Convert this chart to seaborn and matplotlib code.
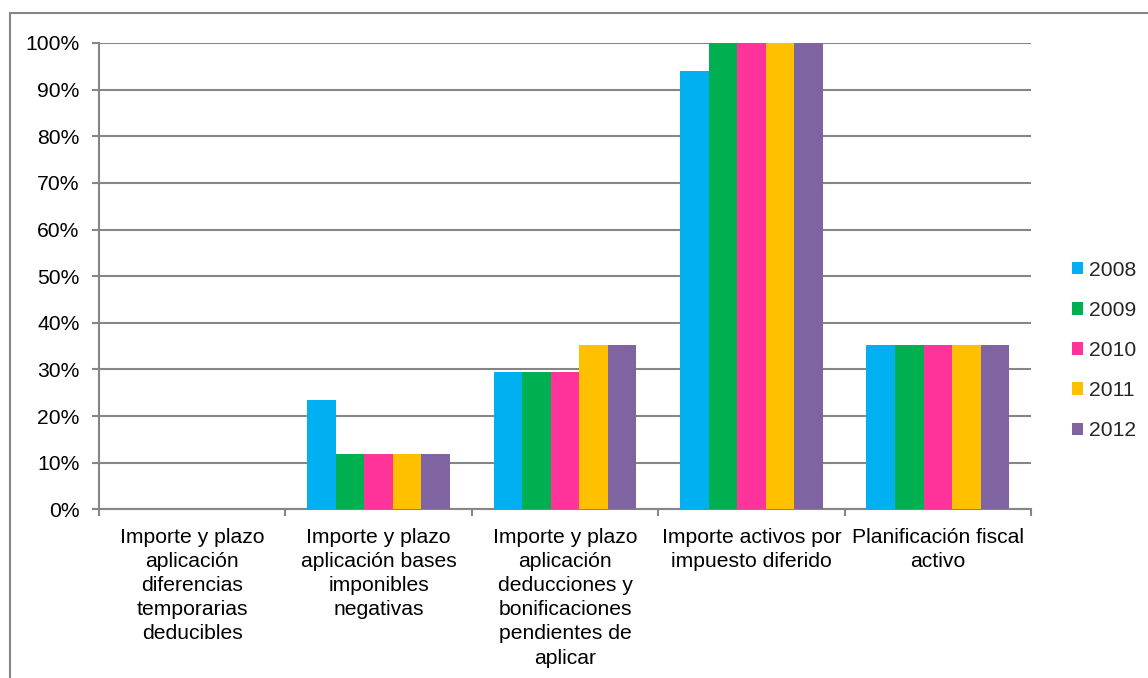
import matplotlib
matplotlib.use("Agg")
import matplotlib.pyplot as plt
from matplotlib.patches import Patch
from matplotlib.lines import Line2D
from matplotlib.ticker import PercentFormatter, FixedLocator
import seaborn as sns
import pandas as pd

# Data
categories = [
    "Importe y plazo\naplicación\ndiferencias\ntemporarias\ndeducibles",
    "Importe y plazo\naplicación bases\nimponibles\nnegativas",
    "Importe y plazo\naplicación\ndeducciones y\nbonificaciones\npendientes de\naplicar",
    "Importe activos por\nimpuesto diferido",
    "Planificación fiscal\nactivo",
]
years = ["2008", "2009", "2010", "2011", "2012"]
v2008 = [0.0, 0.235, 0.294, 0.941, 0.353]
v2009 = [0.0, 0.118, 0.294, 1.000, 0.353]
v2010 = [0.0, 0.118, 0.294, 1.000, 0.353]
v2011 = [0.0, 0.118, 0.353, 1.000, 0.353]
v2012 = [0.0, 0.118, 0.353, 1.000, 0.353]
colors = ["#00B0F0", "#00B050", "#FF3399", "#FFC000", "#8064A2"]

series = [v2008, v2009, v2010, v2011, v2012]
rows = []
for year, vals in zip(years, series):
    for cat, v in zip(categories, vals):
        rows.append({"categoria": cat, "anio": year, "valor": v})
df = pd.DataFrame(rows)

sns.set_style("white")
plt.rcParams["font.family"] = ["Liberation Sans", "DejaVu Sans"]

FS = 15.2
W, H = 1148, 678
fig = plt.figure(figsize=(W / 100, H / 100), dpi=100)
ax = fig.add_axes([99 / W, 1 - 509.3 / H, (1031 - 99) / W, (509.3 - 43) / H])

grid_c = "#868686"
sns.barplot(data=df, x="categoria", y="valor", hue="anio", order=categories,
            hue_order=years, palette=colors, width=0.767, gap=0,
            linewidth=0, saturation=1, legend=False, ax=ax, zorder=3)

ax.set_xlim(-0.5, len(categories) - 0.5)
ax.set_ylim(0, 1)
ax.set_yticks([i / 10 for i in range(11)])
ax.yaxis.set_major_formatter(PercentFormatter(1.0, decimals=0))
ax.set_xlabel("")
ax.set_ylabel("")

ax.grid(axis="y", color=grid_c, linewidth=1.5, zorder=0)
ax.grid(axis="x", visible=False)
ax.set_axisbelow(True)
for s in ["top", "right"]:
    ax.spines[s].set_visible(False)
for s in ["left", "bottom"]:
    ax.spines[s].set_color(grid_c)
    ax.spines[s].set_linewidth(1.5)

ax.tick_params(axis="y", which="major", length=5, width=1.5, color=grid_c,
               labelsize=FS, labelcolor="black", pad=9, left=True)
ax.tick_params(axis="x", which="major", length=0, pad=13.5, labelsize=FS,
               labelcolor="black")
ax.xaxis.set_minor_locator(FixedLocator([i - 0.5 for i in range(len(categories) + 1)]))
ax.tick_params(axis="x", which="minor", length=5, width=1.5, color=grid_c, bottom=True)

ax.set_xticks(range(len(categories)))
ax.set_xticklabels(categories)
for lab in ax.get_xticklabels():
    lab.set_linespacing(1.34)
    lab.set_horizontalalignment("center")

handles = [Patch(facecolor=c, edgecolor="none", label=y) for c, y in zip(colors, years)]
fig.legend(handles=handles, loc="center left", bbox_to_anchor=(1072 / W, 1 - 350.5 / H),
           frameon=False, fontsize=FS, handlelength=0.52, handleheight=0.52,
           handletextpad=0.28, labelspacing=1.0, borderpad=0, borderaxespad=0)

# Outer chart frame
fig.add_artist(Line2D([9.5 / W, 9.5 / W], [0, 1 - 13.3 / H], color=grid_c,
                      linewidth=1.5, transform=fig.transFigure))
fig.add_artist(Line2D([9.5 / W, 1], [1 - 13.3 / H, 1 - 13.3 / H], color=grid_c,
                      linewidth=1.5, transform=fig.transFigure))

fig.savefig("out.png", dpi=100)
